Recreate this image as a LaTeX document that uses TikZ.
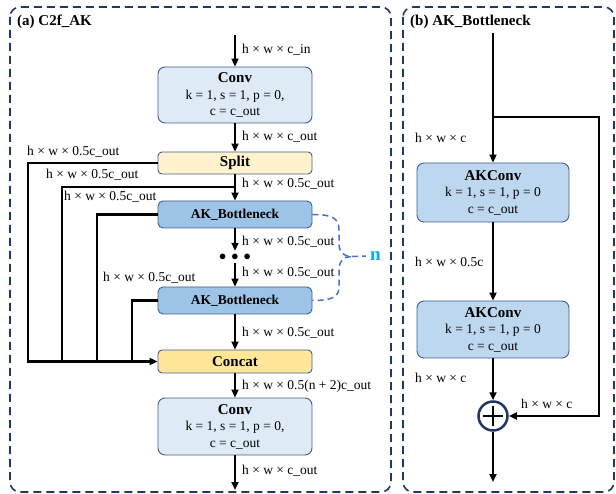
\documentclass[tikz,border=0pt]{standalone}
\usepackage{fontspec}
\setmainfont{Liberation Serif}
\usetikzlibrary{arrows.meta}
\definecolor{frame}{HTML}{203864}
\definecolor{boxline}{HTML}{3F5F8A}
\definecolor{convfill}{HTML}{DEEBF7}
\definecolor{akfill}{HTML}{9DC3E6}
\definecolor{akcfill}{HTML}{BDD7EE}
\definecolor{splitfill}{HTML}{FFF2CC}
\definecolor{catfill}{HTML}{FFE699}
\definecolor{bracec}{HTML}{4472C4}
\definecolor{ncol}{HTML}{00B0F0}
\tikzset{
  panel/.style={draw=frame, line width=1.6pt, dash pattern=on 8pt off 5pt, rounded corners=10pt},
  blk/.style={draw=boxline, line width=0.9pt, rounded corners=7pt, align=center, inner sep=0pt, font=\fontsize{13.5}{16.5}\selectfont},
  lbl/.style={anchor=west, inner sep=0pt, font=\fontsize{13.5}{15}\selectfont},
  ttl/.style={anchor=west, inner sep=0pt, font=\fontsize{15}{17}\selectfont\bfseries},
  arr/.style={line width=2pt, -{Triangle[length=8pt,width=7pt]}},
  bus/.style={line width=2.3pt},
  busarr/.style={line width=2.3pt, -{Triangle[length=8pt,width=7pt]}},
}
\begin{document}
\begin{tikzpicture}[x=1pt,y=-1pt]
\useasboundingbox (0,0) rectangle (616,494);
% panels
\draw[panel] (10,7) rectangle (391,492);
\draw[panel] (403,7) rectangle (614,492);
\node[ttl] (ta) at (17,22) {(a) C2f\_AK};
\node[ttl] (tb) at (410,22) {(b) AK\_Bottleneck};

% ---------- left column ----------
\coordinate (inA) at (235,35);
\node[blk, fill=convfill, minimum width=154pt, minimum height=56pt] (conv1) at (235,95)
  {{\fontsize{15}{17}\selectfont\bfseries Conv}\\k = 1, s = 1, p = 0,\\c = c\_out};
\node[blk, fill=splitfill, minimum width=154pt, minimum height=22pt, rounded corners=4pt] (split) at (235,163)
  {\fontsize{15}{17}\selectfont\bfseries Split};
\node[blk, fill=akfill, minimum width=154pt, minimum height=27pt, rounded corners=5pt] (ak1) at (235,214.5)
  {\fontsize{13.5}{16}\selectfont\bfseries AK\_Bottleneck};
\node[inner sep=0pt, minimum height=12pt, font=\fontsize{13.5}{15}\selectfont] (dots) at (235,257) {$\bullet$\hspace{5pt}$\bullet$\hspace{5pt}$\bullet$};
\node[blk, fill=akfill, minimum width=154pt, minimum height=27pt, rounded corners=5pt] (ak2) at (235,300.5)
  {\fontsize{13.5}{16}\selectfont\bfseries AK\_Bottleneck};
\node[blk, fill=catfill, minimum width=154pt, minimum height=23pt, rounded corners=4pt] (concat) at (235,361.5)
  {\fontsize{15}{17}\selectfont\bfseries Concat};
\node[blk, fill=convfill, minimum width=154pt, minimum height=57pt] (conv2) at (235,426.5)
  {{\fontsize{15}{17}\selectfont\bfseries Conv}\\k = 1, s = 1, p = 0,\\c = c\_out};
\coordinate (outA) at (235,490);

\draw[arr] (inA) -- (conv1.north);
\draw[arr] (conv1.south) -- (split.north);
\draw[arr] (split.south) -- (ak1.north);
\draw[arr] (ak1.south) -- (dots.north);
\draw[arr] (dots.south) -- (ak2.north);
\draw[arr] (ak2.south) -- (concat.north);
\draw[arr] (concat.south) -- (conv2.north);
\draw[arr] (conv2.south) -- (outA);

% branches
\coordinate (b1) at (28,163);
\coordinate (tap2) at (235,187);
\coordinate (b2) at (62,187);
\coordinate (b3) at (97,214.5);
\coordinate (b4) at (132,300.5);
\coordinate (bus1) at (28,361.5);
\coordinate (bus2) at (62,361.5);
\coordinate (bus3) at (97,361.5);
\coordinate (bus4) at (132,361.5);
\draw[busarr] (split.west) -- (b1) -- (bus1) -- (concat.west);
\draw[bus] (tap2) -- (b2) -- (bus2);
\draw[bus] (ak1.west) -- (b3) -- (bus3);
\draw[bus] (ak2.west) -- (b4) -- (bus4);

% labels left column
\node[lbl] (l1) at (242,50) {h × w × c\_in};
\node[lbl] (l2) at (242,137) {h × w × c\_out};
\node[lbl] (l3) at (242,184) {h × w × 0.5c\_out};
\node[lbl] (l4) at (242,242) {h × w × 0.5c\_out};
\node[lbl] (l5) at (242,273) {h × w × 0.5c\_out};
\node[lbl] (l6) at (242,333) {h × w × 0.5c\_out};
\node[lbl] (l7) at (242,386) {h × w × 0.5(n + 2)c\_out};
\node[lbl] (l8) at (242,471) {h × w × c\_out};
\node[lbl] (m1) at (27,152) {h × w × 0.5c\_out};
\node[lbl] (m2) at (46,175) {h × w × 0.5c\_out};
\node[lbl] (m3) at (64,197) {h × w × 0.5c\_out};
\node[lbl] (m4) at (103,278) {h × w × 0.5c\_out};

% brace
\coordinate (bj) at (351,256.5);
\coordinate (bn) at (366,256);
\draw[bracec, line width=1.5pt, dash pattern=on 6pt off 4pt]
  (ak1.east) .. controls (332,214.5) and (339,218) .. (339,230) -- (339,244)
  .. controls (339,252) and (344,256.5) .. (bj) -- (bn);
\draw[bracec, line width=1.5pt, dash pattern=on 6pt off 4pt]
  (bj) .. controls (344,256.5) and (339,261) .. (339,270) -- (339,287)
  .. controls (339,297) and (332,300.5) .. (ak2.east);
\node[anchor=west, inner sep=0pt, text=ncol, font=\fontsize{19}{21}\selectfont\bfseries] (nn) at (370,256) {n};

% ---------- right column ----------
\coordinate (inB) at (493,33);
\coordinate (tapB) at (493,117);
\coordinate (rc1) at (599,117);
\coordinate (rc2) at (599,416);
\node[blk, fill=akcfill, minimum width=152pt, minimum height=59pt] (akc1) at (493,192.5)
  {{\fontsize{15}{17}\selectfont\bfseries AKConv}\\k = 1, s = 1, p = 0\\c = c\_out};
\node[blk, fill=akcfill, minimum width=152pt, minimum height=57pt] (akc2) at (493,329.5)
  {{\fontsize{15}{17}\selectfont\bfseries AKConv}\\k = 1, s = 1, p = 0\\c = c\_out};
\node[circle, draw=frame, line width=2.5pt, fill=white, minimum size=29pt, inner sep=0pt] (plus) at (493,416) {};
\draw[line width=1.2pt] ([xshift=-10pt]plus.center) -- ([xshift=10pt]plus.center);
\draw[line width=1.2pt] ([yshift=-10pt]plus.center) -- ([yshift=10pt]plus.center);
\coordinate (outB) at (493,482);

\draw[arr] (inB) -- (akc1.north);
\draw[arr] (akc1.south) -- (akc2.north);
\draw[arr] (akc2.south) -- (plus.north);
\draw[arr] (plus.south) -- (outB);
\draw[busarr] (tapB) -- (rc1) -- (rc2) -- (plus.east);

\node[lbl] (r1) at (415,138) {h × w × c};
\node[lbl] (r2) at (415,262) {h × w × 0.5c};
\node[lbl] (r3) at (415,378) {h × w × c};
\node[lbl] (r4) at (521,404) {h × w × c};
\end{tikzpicture}
\end{document}
